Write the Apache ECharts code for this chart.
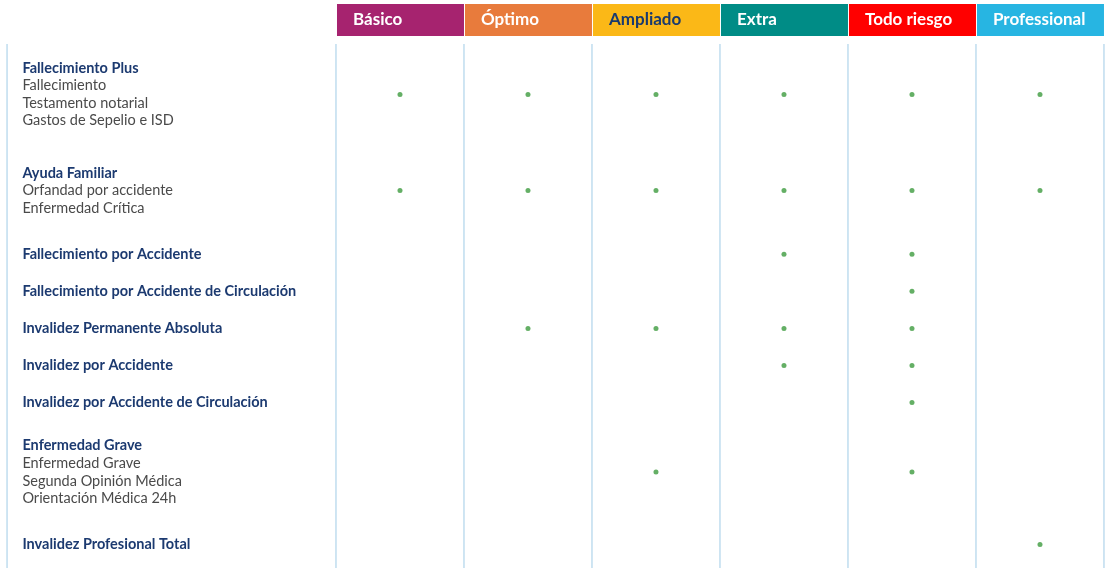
<!DOCTYPE html><html><head><meta charset="utf-8">
<script src="https://cdn.jsdelivr.net/npm/echarts@6/dist/echarts.min.js"></script>
<style>html,body{margin:0;background:#fff}#c{width:1110px;height:568px}</style></head><body><div id="c"></div>
<script>
const plans = ['Básico','Óptimo','Ampliado','Extra','Todo riesgo','Professional'];
const planColors = ['#a6236f','#e87b3c','#fbb817','#008c86','#ff0000','#27b5e2'];
const planTextColors = ['#fff','#fff','#1a3a6e','#fff','#fff','#fff'];
const rowTitles = ['Fallecimiento Plus','Ayuda Familiar','Fallecimiento por Accidente','Fallecimiento por Accidente de Circulación','Invalidez Permanente Absoluta','Invalidez por Accidente','Invalidez por Accidente de Circulación','Enfermedad Grave','Invalidez Profesional Total'];
const rowSubs = [['Fallecimiento','Testamento notarial','Gastos de Sepelio e ISD'],['Orfandad por accidente','Enfermedad Crítica'],[],[],[],[],[],['Enfermedad Grave','Segunda Opinión Médica','Orientación Médica 24h'],[]];
const coverage = [
 [1,1,1,1,1,1],[1,1,1,1,1,1],[0,0,0,1,1,0],[0,0,0,0,1,0],[0,1,1,1,1,0],[0,0,0,1,1,0],[0,0,0,0,1,0],[0,0,1,0,1,0],[0,0,0,0,0,1]];

const LH=17.6;
const tops=[]; let t=68;
rowTitles.forEach((r,i)=>{ const n=1+rowSubs[i].length;
  if(i>0 && n>1) t+=6;
  tops.push(t); t+= n*LH+19.5; if(n>1) t+= 9; });
const centers=tops.map((tp,i)=>tp+rowSubs[i].length*LH/2);

const dots=[]; coverage.forEach((r,i)=>r.forEach((v,j)=>{ if(v) dots.push([j+0.5,centers[i]]); }));
const LEFT=-2.57;
const chart=echarts.init(document.getElementById('c'));
chart.setOption({
 animation:false,
 grid:{left:0,right:0,top:0,bottom:0},
 xAxis:{type:'value',min:-2.625,max:6.047,show:false},
 yAxis:{type:'value',min:0,max:568,inverse:true,show:false},
 series:[
  {type:'custom',data:plans.map((p,i)=>[i,i]),renderItem:(params,api)=>{
    const i=api.value(0); const a=api.coord([i,4]), b=api.coord([i+1,36]);
    return {type:'group',children:[
     {type:'rect',shape:{x:a[0]+1,y:a[1],width:b[0]-a[0]-1,height:b[1]-a[1]},style:{fill:planColors[i]}},
     {type:'text',style:{text:plans[i],x:a[0]+17,y:(a[1]+b[1])/2,verticalAlign:'middle',fill:planTextColors[i],font:'bold 17px Lato'}}]};}},
  {type:'custom',data:[LEFT,0,1,2,3,4,5,6].map(v=>[v]),renderItem:(params,api)=>{
    const a=api.coord([api.value(0),44]), b=api.coord([api.value(0),568]);
    return {type:'line',shape:{x1:a[0],y1:a[1],x2:b[0],y2:b[1]},style:{stroke:'#9fcbe6',lineWidth:1}};}},
  {type:'custom',data:rowTitles.map((r,i)=>[i]),renderItem:(params,api)=>{
    const i=api.value(0); const p=api.coord([-2.45,tops[i]]);
    const ch=[{type:'text',style:{text:rowTitles[i],x:p[0],y:p[1],verticalAlign:'middle',fill:'#1c3a70',font:'bold 14.5px Lato'}}];
    rowSubs[i].forEach((s,k)=>ch.push({type:'text',style:{text:s,x:p[0],y:p[1]+(k+1)*LH,verticalAlign:'middle',fill:'#4a4a4a',font:'14.5px Lato'}}));
    return {type:'group',children:ch};}},
  {type:'scatter',data:dots,symbolSize:5,itemStyle:{color:'#3d9b3f'}}
 ]
});
</script></body></html>
